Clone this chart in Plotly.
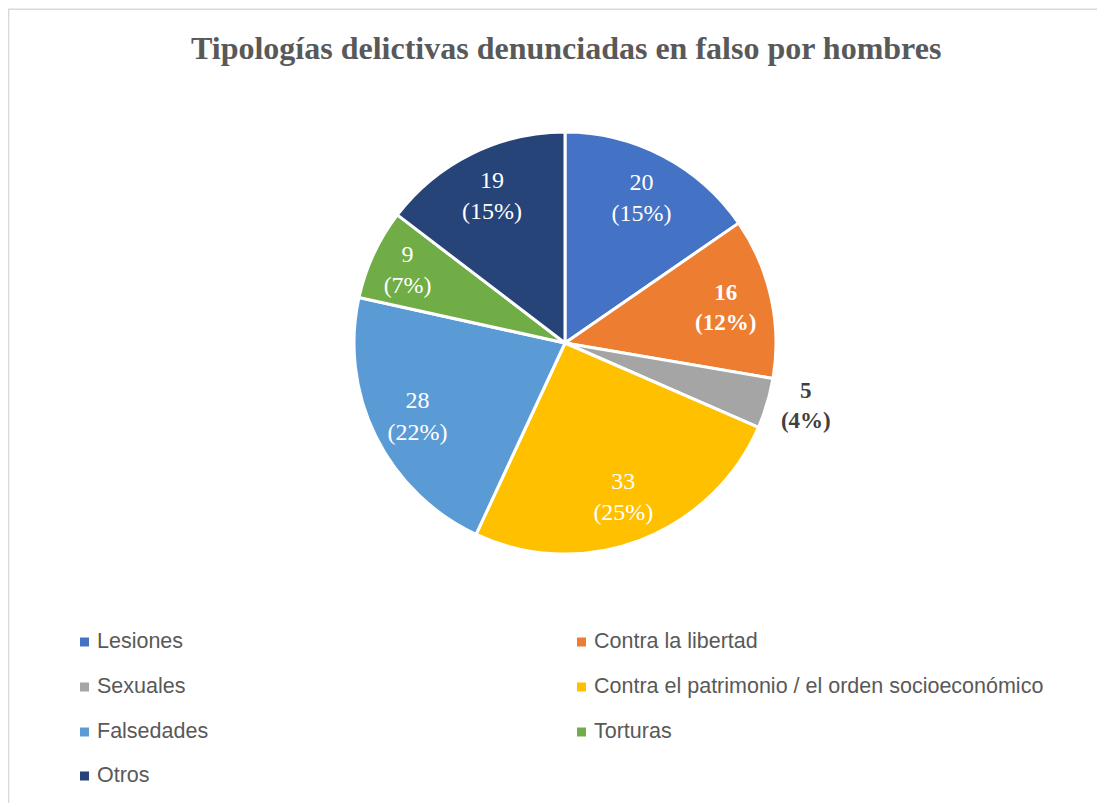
import plotly.graph_objects as go

categories = ["Lesiones", "Contra la libertad", "Sexuales",
              "Contra el patrimonio / el orden socioeconómico",
              "Falsedades", "Torturas", "Otros"]
values = [20, 16, 5, 33, 28, 9, 19]
colors = ["#4472C4", "#ED7D31", "#A5A5A5", "#FFC000", "#5B9BD5", "#70AD47", "#264478"]
bold = [False, True, True, False, False, False, False]
textpos = ["inside", "inside", "outside", "inside", "inside", "inside", "inside"]
title = "Tipologías delictivas denunciadas en falso por hombres"

W, H = 1105, 803
total = sum(values)
texts = []
for v, b in zip(values, bold):
    s = f"{v}<br>({round(100 * v / total)}%)"
    texts.append(f"<b>{s}</b>" if b else s)
textcolors = ["#FFFFFF" if p == "inside" else "#404040" for p in textpos]
textsizes = [23 if b else 24 for b in bold]

cx, cy, r = 557, 335, 211
dom = dict(x=[(cx - r) / W, (cx + r) / W], y=[(H - cy - r) / H, (H - cy + r) / H])

fig = go.Figure()
# the pie itself
fig.add_trace(go.Pie(
    labels=categories, values=values, textinfo="none",
    sort=False, direction="clockwise", rotation=0,
    marker=dict(colors=colors, line=dict(color="#FFFFFF", width=3)),
    showlegend=False, domain=dom, hoverinfo="label+value+percent",
))
# transparent ring used only to place the data labels at ~0.78 R
fig.add_trace(go.Pie(
    labels=categories, values=values, text=texts, textinfo="text",
    textposition=textpos, sort=False, direction="clockwise", rotation=0, hole=0.56,
    marker=dict(colors=["rgba(0,0,0,0)"] * len(values), line=dict(width=0)),
    textfont=dict(family="Liberation Serif", size=textsizes, color=textcolors),
    insidetextorientation="horizontal", showlegend=False, domain=dom,
    hoverinfo="skip",
))

fig.add_annotation(text=f"<b>{title}</b>", x=558 / W, y=1 - 40 / H, xref="paper", yref="paper",
                   showarrow=False, xanchor="center", yanchor="middle",
                   font=dict(family="Liberation Serif", size=32, color="#595959"))

# legend (two columns)
col_x = [72, 569]
row_y = [633, 678, 723, 767]
for i, (name, c) in enumerate(zip(categories, colors)):
    x0 = col_x[i % 2]
    y0 = row_y[i // 2]
    fig.add_shape(type="rect", xref="paper", yref="paper",
                  x0=x0 / W, x1=(x0 + 9) / W, y0=1 - (y0 + 5.5) / H, y1=1 - (y0 - 3.5) / H,
                  fillcolor=c, line=dict(width=0))
    fig.add_annotation(text=name, x=(x0 + 15) / W, y=1 - y0 / H, xref="paper", yref="paper",
                       showarrow=False, xanchor="left", yanchor="middle",
                       font=dict(family="Liberation Sans", size=21.5, color="#595959"))

# chart border
fig.add_shape(type="rect", xref="paper", yref="paper", x0=0.6 / W, x1=1.01, y0=-0.01, y1=1 - 1.2 / H,
              line=dict(color="#D9D9D9", width=1.5), fillcolor="rgba(0,0,0,0)")

fig.update_layout(width=W, height=H, margin=dict(l=0, r=0, t=0, b=0),
                  paper_bgcolor="#FFFFFF", plot_bgcolor="#FFFFFF")
fig.write_html("out.html")
